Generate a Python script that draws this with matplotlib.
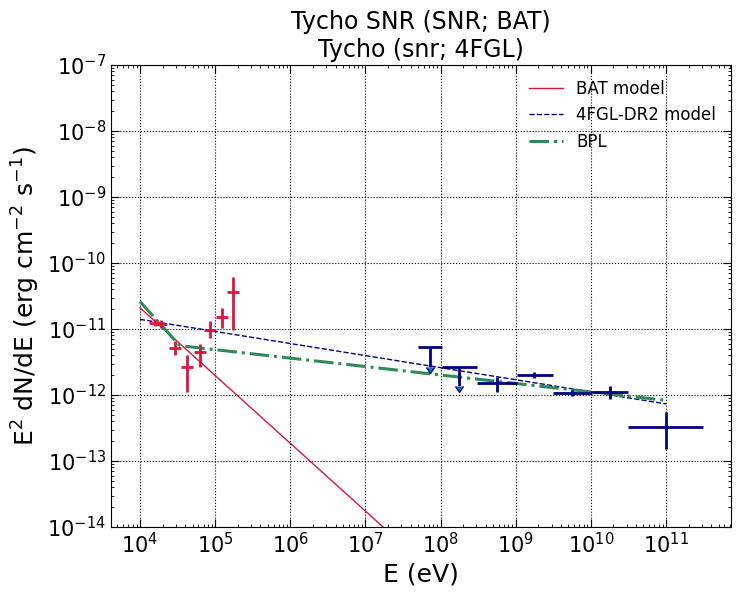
import numpy as np
import matplotlib
matplotlib.use("Agg")
import matplotlib.pyplot as plt

# BAT points (eV, erg cm-2 s-1)
bat_e = [1.6e4, 1.9e4, 2.9e4, 4.2e4, 6.3e4, 8.5e4, 1.23e5, 1.74e5]
bat_f = [1.25e-11, 1.2e-11, 5.2e-12, 2.65e-12, 4.5e-12, 9.7e-12, 1.5e-11, 3.6e-11]
bat_lo = [1.1e-11, 1.05e-11, 4.0e-12, 1.1e-12, 2.7e-12, 7.2e-12, 1.05e-11, 9.5e-12]
bat_hi = [1.4e-11, 1.35e-11, 6.5e-12, 4.1e-12, 6.0e-12, 1.3e-11, 2.1e-11, 6.2e-11]
bat_dex = 0.08  # half-width of the energy bins in log10

# 4FGL points
lat_lo_e = [10**7.70, 10**8.02, 10**8.49, 10**9.02, 10**9.49, 10**10.02, 10**10.49]
lat_hi_e = [10**8.02, 10**8.49, 10**9.02, 10**9.49, 10**10.02, 10**10.49, 10**11.49]
lat_e = [10**7.86, 10**8.25, 10**8.75, 10**9.24, 10**9.75, 10**10.25, 10**11.0]
lat_f = [5.3e-12, 2.7e-12, 1.5e-12, 2.0e-12, 1.07e-12, 1.1e-12, 3.3e-13]
lat_lo = [5.3e-12, 2.7e-12, 1.1e-12, 1.8e-12, 9.5e-13, 8.6e-13, 1.5e-13]
lat_hi = [5.3e-12, 2.7e-12, 1.85e-12, 2.2e-12, 1.2e-12, 1.35e-12, 5.6e-13]
lat_ul = [True, True, False, False, False, False, False]

# models: E^2 dN/dE = norm * (E/1e4)^slope
bat_norm, bat_slope = 2.1e-11, -1.027
fgl_norm, fgl_slope = 1.4e-11, -0.183
bpl_norm, bpl_break, bpl_s1, bpl_s2 = 2.6e-11, 10**4.53, -1.26, -0.128

fig = plt.figure(figsize=(7.41, 5.96), dpi=100)
ax = fig.add_axes([111/741, 1-527/596, 620/741, 462/596])

e = np.logspace(4, 11, 300)
ax.plot(e, bat_norm*(e/1e4)**bat_slope, color='crimson', lw=1, label='BAT model')
ax.plot(e, fgl_norm*(e/1e4)**fgl_slope, color='navy', ls='--', lw=1, label='4FGL-DR2 model')
fb = bpl_norm*(bpl_break/1e4)**bpl_s1
bpl = np.where(e < bpl_break, bpl_norm*(e/1e4)**bpl_s1, fb*(e/bpl_break)**bpl_s2)
ax.plot(e, bpl, color='seagreen', ls='-.', lw=2.2, label='BPL')

bat_e = np.array(bat_e); bat_f = np.array(bat_f)
bxerr = [bat_e*(1-10**-bat_dex), bat_e*(10**bat_dex-1)]
ax.errorbar(bat_e, bat_f, xerr=bxerr,
            yerr=[bat_f-np.array(bat_lo), np.array(bat_hi)-bat_f],
            fmt='none', ecolor='crimson', elinewidth=2)

lat_e = np.array(lat_e); lat_f = np.array(lat_f)
xerr = [lat_e-np.array(lat_lo_e), np.array(lat_hi_e)-lat_e]
yerr = [lat_f-np.array(lat_lo), np.array(lat_hi)-lat_f]
ul = np.array(lat_ul)
yerr[0] = np.where(ul, lat_f*0.5, yerr[0])
ax.errorbar(lat_e, lat_f, xerr=xerr, yerr=yerr, uplims=ul,
            fmt='none', ecolor='navy', elinewidth=2, capsize=0)

ax.set_xscale('log')
ax.set_yscale('log')
ax.set_xlim(10**3.614, 10**11.865)
ax.set_ylim(1e-14, 1e-7)
ax.grid(True, color='black', ls=':', lw=0.8)
ax.tick_params(which='both', direction='in', top=True, right=True, labelsize=15)
ax.tick_params(which='major', length=6)
ax.set_xlabel('E (eV)', fontsize=18)
ax.set_ylabel(r'E$^2$ dN/dE (erg cm$^{-2}$ s$^{-1}$)', fontsize=18)
ax.set_title('Tycho SNR (SNR; BAT)\nTycho (snr; 4FGL)', fontsize=17)
ax.legend(loc='upper right', frameon=False, fontsize=12)

fig.savefig('out.png', dpi=100)
